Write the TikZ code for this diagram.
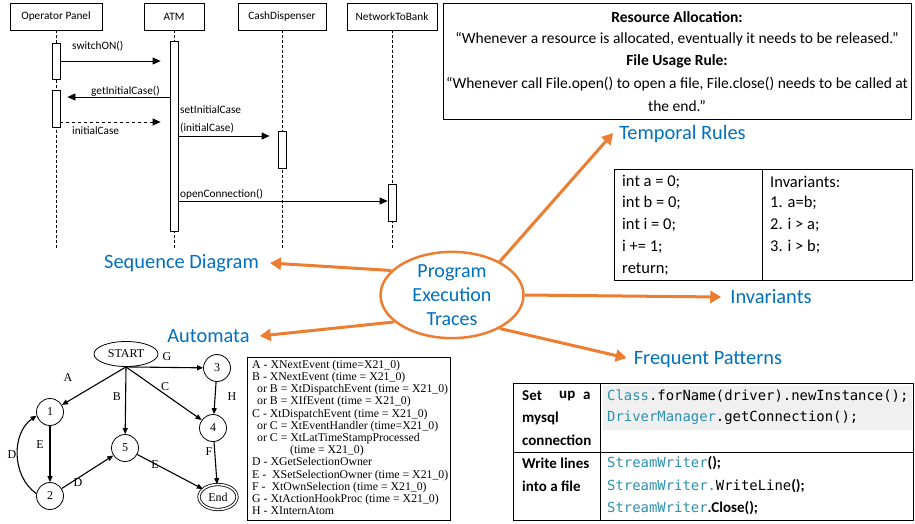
\documentclass[tikz,border=0pt]{standalone}
\usepackage{fontspec}
\setmainfont{Carlito}
\newfontfamily\tnr{Liberation Serif}
\newfontfamily\codefont{DejaVu Sans Mono}
\usetikzlibrary{arrows.meta,shapes.geometric,calc}
\definecolor{orng}{RGB}{237,125,49}
\definecolor{blu}{RGB}{0,112,192}
\definecolor{codeblue}{RGB}{43,145,175}
\definecolor{hl}{RGB}{240,240,240}
\begin{document}
\begin{tikzpicture}[x=1pt,y=-1pt,
  seqbox/.style={draw, line width=0.8pt, minimum height=27pt, inner sep=0pt, font=\fontsize{11.3}{13}\selectfont},
  act/.style={draw, fill=white, minimum width=8pt, inner sep=0pt, line width=0.8pt},
  lifeline/.style={line width=0.6pt, dash pattern=on 3pt off 2pt},
  msg/.style={-{Triangle[length=8pt,width=7pt]}, line width=0.8pt},
  seqlbl/.style={anchor=west, font=\fontsize{11.3}{13}\selectfont, inner sep=0pt},
  blulbl/.style={text=blu, font=\fontsize{20.4}{22}\selectfont, inner sep=0pt},
  oarrow/.style={orng, line width=3pt, -{Triangle[length=11pt,width=12pt]}},
  state/.style={circle, draw, minimum size=27pt, inner sep=0pt, font=\tnr\fontsize{12}{13}\selectfont, line width=0.8pt},
  aedge/.style={-{Triangle[length=6pt,width=5pt]}, line width=1.1pt},
  albl/.style={font=\tnr\fontsize{12}{13}\selectfont, inner sep=0pt},
  trtxt/.style={font=\fontsize{15.5}{17}\selectfont, inner sep=0pt},
  tabtxt/.style={font=\fontsize{16.5}{18}\selectfont, inner sep=0pt, anchor=west},
  lefttxt/.style={font=\bfseries\fontsize{15}{17}\selectfont, inner sep=0pt, anchor=west},
  codetxt/.style={font=\codefont\fontsize{13.9}{16}\selectfont, inner sep=0pt, anchor=west}
]
\useasboundingbox (0,0) rectangle (915,523);

% ---------------- Sequence diagram ----------------
\node[seqbox, minimum width=92pt] (op) at (56,16.5) {Operator Panel};
\node[seqbox, minimum width=60pt] (atm) at (174,16.5) {ATM};
\node[seqbox, minimum width=88pt] (cd) at (282,16.5) {CashDispenser};
\node[seqbox, minimum width=90pt] (nb) at (392,16.5) {NetworkToBank};
\draw[lifeline] (op.south) -- (op.south |- 0,248);
\draw[lifeline] (atm.south) -- (atm.south |- 0,248);
\draw[lifeline] (cd.south) -- (cd.south |- 0,248);
\draw[lifeline] (nb.south) -- (nb.south |- 0,248);
\node[act, minimum height=36pt] (op1) at (56,61) {};
\node[act, minimum height=37pt] (op2) at (56,108.5) {};
\node[act, minimum height=190pt] (atm1) at (174,136) {};
\node[act, minimum height=37pt] (cd1) at (282,149.5) {};
\node[act, minimum height=37pt] (nb1) at (392,202.5) {};
\draw[msg] (op1.east) -- ([xshift=-9pt]atm1.west |- op1.east);
\draw[msg] (atm1.west |- 0,97) -- ([xshift=7pt]op2.east |- 0,97);
\draw[msg, dashed] (op2.east |- 0,122) -- ([xshift=-9pt]atm1.west |- 0,122);
\draw[msg] (atm1.east |- 0,136) -- ([xshift=-8pt]cd1.west |- 0,136);
\draw[msg] (atm1.east |- 0,201) -- (nb1.west |- 0,201);
\node[seqlbl] (l1) at (72,46) {switchON()};
\node[seqlbl] (l2) at (91,91) {getInitialCase()};
\node[seqlbl] (l3) at (72,131) {initialCase};
\node[seqlbl] (l4) at (180,110) {setInitialCase};
\node[seqlbl] (l5) at (180,128) {(initialCase)};
\node[seqlbl] (l6) at (180,194) {openConnection()};

% ---------------- Temporal rules ----------------
\node[draw, line width=0.8pt, minimum width=468pt, minimum height=116pt, anchor=north west, inner sep=0pt] (trbox) at (443,3) {};
\node[trtxt, font=\bfseries\fontsize{15.5}{17}\selectfont] (t1) at (677,17) {Resource Allocation:};
\node[trtxt] (t2) at (677,39) {“Whenever a resource is allocated, eventually it needs to be released.”};
\node[trtxt, font=\bfseries\fontsize{15.5}{17}\selectfont] (t3) at (677,61) {File Usage Rule:};
\node[trtxt] (t4) at (677,84) {“Whenever call File.open() to open a file, File.close() needs to be called at};
\node[trtxt] (t5) at (677,106) {the end.”};

% ---------------- Invariants table ----------------
\node[draw, line width=0.8pt, minimum width=298pt, minimum height=111pt, anchor=north west, inner sep=0pt] (invtab) at (614,169) {};
\draw[line width=0.8pt] (invtab.north west -| 762,0) -- (invtab.south west -| 762,0);
\node[tabtxt] (c1) at (622,182) {int a = 0;};
\node[tabtxt] (c2) at (622,203) {int b = 0;};
\node[tabtxt] (c3) at (622,225) {int i = 0;};
\node[tabtxt] (c4) at (622,247) {i += 1;};
\node[tabtxt] (c5) at (622,269) {return;};
\node[tabtxt] (v1) at (770,182) {Invariants:};
\node[tabtxt] (v2) at (770,203) {1. a=b;};
\node[tabtxt] (v3) at (770,225) {2. i > a;};
\node[tabtxt] (v4) at (770,247) {3. i > b;};

% ---------------- Frequent patterns table ----------------
\fill[hl] (603,386) rectangle (912,430);
\node[draw, line width=0.8pt, minimum width=400pt, minimum height=137pt, anchor=north west, inner sep=0pt] (fptab) at (513,383) {};
\draw[line width=0.8pt] (fptab.north west -| 600,0) -- (fptab.south west -| 600,0);
\draw[line width=0.8pt] (fptab.north west |- 0,452) -- (fptab.north east |- 0,452);
\node[lefttxt] (s1a) at (522,396) {Set};
\node[lefttxt] (s1b) at (559,396) {up};
\node[lefttxt] (s1c) at (583,396) {a};
\node[lefttxt] (s2) at (522,418) {mysql};
\node[lefttxt] (s3) at (522,440) {connection};
\node[lefttxt] (w1) at (522,463) {Write lines};
\node[lefttxt] (w2) at (522,486) {into a file};
\node[codetxt] (k1) at (607,396) {\textcolor{codeblue}{Class}.forName(driver).newInstance();};
\node[codetxt] (k2) at (607,418) {\textcolor{codeblue}{DriverManager}.getConnection();};
\node[codetxt] (k3) at (607,463) {\textcolor{codeblue}{StreamWriter}{\rmfamily\bfseries\fontsize{15}{17}\selectfont ();}};
\node[codetxt] (k4) at (607,486) {\textcolor{codeblue}{StreamWriter.}WriteLine{\rmfamily\bfseries\fontsize{15}{17}\selectfont ();}};
\node[codetxt] (k5) at (607,508) {\textcolor{codeblue}{StreamWriter}{\rmfamily\bfseries\fontsize{15}{17}\selectfont .Close();}};

% ---------------- Automata ----------------
\node[ellipse, draw, line width=0.8pt, minimum width=64pt, minimum height=25pt, inner sep=0pt, font=\tnr\fontsize{12}{13}\selectfont] (start) at (126,354) {START};
\node[state] (s3n) at (217,368) {3};
\node[state] (s1n) at (50,412) {1};
\node[state] (s4n) at (213,428) {4};
\node[state] (s5n) at (125,448) {5};
\node[state] (s2n) at (50,496) {2};
\node[ellipse, draw, double, double distance=1.6pt, line width=0.8pt, minimum width=38pt, minimum height=25pt, inner sep=0pt, font=\tnr\fontsize{12}{13}\selectfont] (endn) at (218,497) {End};
\draw[aedge] (start.south) -- (s1n);
\draw[aedge] (start.south) -- (s5n);
\draw[aedge] (start.south) -- (s4n);
\draw[aedge] (start.south) -- (s3n);
\draw[aedge] (s3n) -- (s4n);
\draw[aedge] (s1n) -- (s2n);
\draw[aedge] (s2n.170) to[bend left=55] (s1n.195);
\draw[aedge] (s2n) -- (s5n);
\draw[aedge] (s5n) -- (endn);
\draw[aedge] (s4n) -- (endn);
\node[albl] (la) at (68,378) {A};
\node[albl] (lb) at (117,397) {B};
\node[albl] (lc) at (165,387) {C};
\node[albl] (lg) at (167,357) {G};
\node[albl] (lh) at (232,397) {H};
\node[albl] (le1) at (40,445) {E};
\node[albl] (ld1) at (12,455) {D};
\node[albl] (ld2) at (78,483) {D};
\node[albl] (le2) at (155,465) {E};
\node[albl] (lf) at (209,452) {F};

\node[draw, line width=0.8pt, minimum width=203pt, minimum height=163pt, anchor=north west, inner sep=0pt] (leg) at (247,357) {};
\node[anchor=north west, align=left, inner sep=0pt, font=\tnr\fontsize{11.8}{12.2}\selectfont] (legtxt) at (252,360) {%
A - XNextEvent (time=X21\_0)\\
B - XNextEvent (time = X21\_0)\\
\hspace*{5pt}or B = XtDispatchEvent (time = X21\_0)\\
\hspace*{5pt}or B = XIfEvent (time = X21\_0)\\
C - XtDispatchEvent (time = X21\_0)\\
\hspace*{5pt}or C = XtEventHandler (time=X21\_0)\\
\hspace*{5pt}or C = XtLatTimeStampProcessed\\
\hspace*{38pt}(time = X21\_0)\\
D - XGetSelectionOwner\\
E - \ XSetSelectionOwner (time = X21\_0)\\
F - \ XtOwnSelection (time = X21\_0)\\
G - XtActionHookProc (time = X21\_0)\\
H - XInternAtom};

% ---------------- Center and labels ----------------
\node[blulbl] (sdl) at (181.5,263) {Sequence Diagram};
\node[blulbl] (trl) at (682.5,134) {Temporal Rules};
\node[blulbl] (invl) at (771,297) {Invariants};
\node[blulbl] (aul) at (208.5,336) {Automata};
\node[blulbl] (fpl) at (708,360) {Frequent Patterns};
\node[ellipse, draw=orng, line width=2.5pt, minimum width=143pt, minimum height=86pt, inner sep=0pt, text=blu, align=center, font=\fontsize{20}{24}\selectfont] (pet) at (452,295) {Program\\Execution\\Traces};

\draw[oarrow] (pet.35) -- ([xshift=-6pt,yshift=1pt]trl.west);
\draw[oarrow] (pet.158) -- ([xshift=11pt]sdl.east);
\draw[oarrow] (pet.east) -- ([xshift=-9pt]invl.west);
\draw[oarrow] (pet.205) -- ([xshift=10pt]aul.east);
\draw[oarrow] (pet.-35) -- ([xshift=-7pt,yshift=2pt]fpl.west);
\end{tikzpicture}
\end{document}
